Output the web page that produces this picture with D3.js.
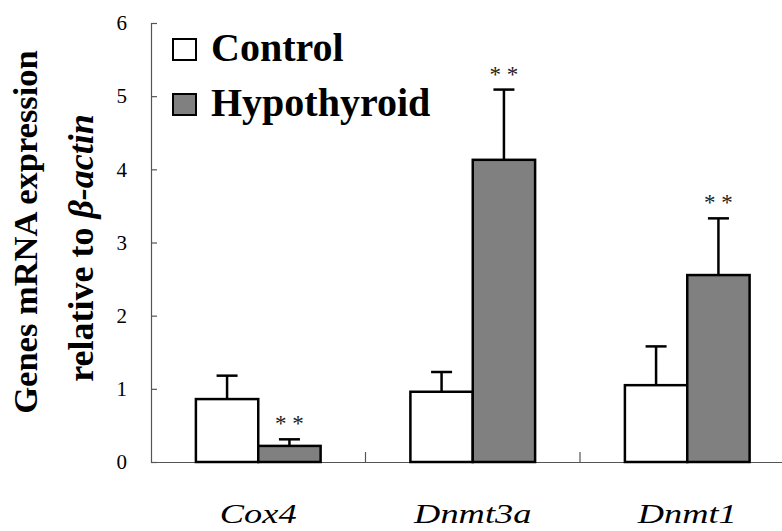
<!DOCTYPE html>
<html><head><meta charset="utf-8">
<script src="https://cdn.jsdelivr.net/npm/d3@7/dist/d3.min.js"></script>
<style>body{margin:0;background:#fff}svg{display:block}</style>
</head><body>
<svg id="c" width="782" height="531"></svg>
<script>
const categories = ["Cox4", "Dnmt3a", "Dnmt1"];
const seriesNames = ["Control", "Hypothyroid"];
const controlMean = [0.86, 0.96, 1.05];
const controlErr  = [0.32, 0.27, 0.53];
const hypoMean    = [0.22, 4.13, 2.555];
const hypoErr     = [0.09, 0.96, 0.775];
const hypoSig     = ["* *", "* *", "* *"];
const yTicks = [0, 1, 2, 3, 4, 5, 6];

const svg = d3.select("#c");
const serif = "'Liberation Serif','Times New Roman',Times,serif";
const y = d3.scaleLinear().domain([0, 6]).range([462, 23]);
const x = d3.scaleBand().domain(categories).range([151, 794.5]);
const sub = d3.scaleBand().domain(seriesNames).range([0, x.bandwidth()]).paddingInner(0).paddingOuter(0.72);
const colors = {"Control": "#ffffff", "Hypothyroid": "#808080"};

const data = [];
categories.forEach((c, i) => {
  data.push({cat: c, s: "Control", v: controlMean[i], e: controlErr[i], sig: null});
  data.push({cat: c, s: "Hypothyroid", v: hypoMean[i], e: hypoErr[i], sig: hypoSig[i]});
});

// axes
const yAxis = d3.axisLeft(y).tickValues(yTicks).tickSize(-6).tickPadding(24).tickFormat(d3.format("d"));
const gy = svg.append("g").attr("transform", "translate(151,0)").call(yAxis);
gy.select(".domain").attr("stroke", "#555").attr("stroke-width", 1.2);
gy.selectAll(".tick line").attr("stroke", "#555").attr("stroke-width", 1.2);
gy.selectAll(".tick text").attr("font-family", serif).attr("font-size", 21).attr("fill", "#000");

const xAxis = d3.axisBottom(x).tickSize(0).tickFormat("");
const gx = svg.append("g").attr("transform", "translate(0,462)").call(xAxis);
gx.select(".domain").attr("stroke", "#555").attr("stroke-width", 1.2);
gx.selectAll(".tick").remove();
[1, 2].forEach(i => {
  const xx = x(categories[i]);
  svg.append("line").attr("x1", xx).attr("x2", xx).attr("y1", 462).attr("y2", 452)
    .attr("stroke", "#555").attr("stroke-width", 1.2);
});

// error bars
const g = svg.append("g");
data.forEach(d => {
  const cx = x(d.cat) + sub(d.s) + sub.bandwidth() / 2;
  g.append("line").attr("x1", cx).attr("x2", cx).attr("y1", y(d.v)).attr("y2", y(d.v + d.e))
    .attr("stroke", "#000").attr("stroke-width", 2.5);
  g.append("line").attr("x1", cx - 10.5).attr("x2", cx + 10.5).attr("y1", y(d.v + d.e)).attr("y2", y(d.v + d.e))
    .attr("stroke", "#000").attr("stroke-width", 2.5);
  if (d.sig) {
    g.append("text").attr("x", cx).attr("y", y(d.v + d.e) - 8).attr("text-anchor", "middle")
      .attr("font-family", serif).attr("font-size", 23).attr("fill", "#222").text(d.sig);
  }
});
// bars
g.selectAll("rect.bar").data(data).join("rect").attr("class", "bar")
  .attr("x", d => x(d.cat) + sub(d.s)).attr("width", sub.bandwidth())
  .attr("y", d => y(d.v)).attr("height", d => y(0) - y(d.v))
  .attr("fill", d => colors[d.s]).attr("stroke", "#000").attr("stroke-width", 2.5);

// x labels (horizontally stretched italic)
svg.selectAll("text.xl").data(categories).join("text").attr("class", "xl")
  .attr("transform", d => `translate(${x(d) + x.bandwidth() / 2},523) scale(1.3,1)`)
  .attr("text-anchor", "middle")
  .attr("font-family", serif).attr("font-style", "italic").attr("font-size", 28)
  .text(d => d);

// legend
const leg = svg.append("g");
seriesNames.forEach((s, i) => {
  const yy = 39 + i * 55;
  leg.append("rect").attr("x", 173).attr("y", yy).attr("width", 23).attr("height", 21)
    .attr("fill", colors[s]).attr("stroke", "#000").attr("stroke-width", 2);
  leg.append("text").attr("x", 211).attr("y", yy + 22).attr("font-family", serif)
    .attr("font-weight", "bold").attr("font-size", 40).text(s);
});

// y title
svg.append("text").attr("transform", "translate(37,232) rotate(-90)").attr("text-anchor", "middle")
  .attr("font-family", serif).attr("font-weight", "bold").attr("font-size", 34.5).text("Genes mRNA expression");
const t2 = svg.append("text").attr("transform", "translate(93,248) rotate(-90)").attr("text-anchor", "middle")
  .attr("font-family", serif).attr("font-weight", "bold").attr("font-size", 36);
t2.append("tspan").text("relative to ");
t2.append("tspan").attr("font-style", "italic").text("β-actin");
</script>
</body></html>
